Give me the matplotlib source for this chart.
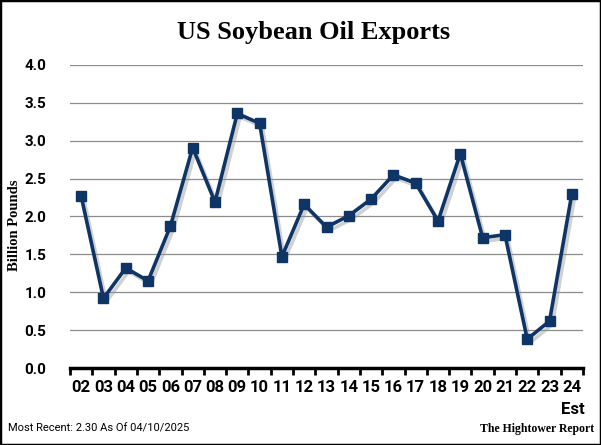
import matplotlib.pyplot as plt
import matplotlib.patheffects as pe
from matplotlib.patches import Rectangle

years = ['02', '03', '04', '05', '06', '07', '08', '09', '10', '11', '12', '13',
         '14', '15', '16', '17', '18', '19', '20', '21', '22', '23', '24']
exports = [2.27, 0.92, 1.32, 1.15, 1.87, 2.91, 2.19, 3.36, 3.23, 1.47, 2.16, 1.86,
           2.01, 2.23, 2.55, 2.44, 1.94, 2.83, 1.72, 1.76, 0.38, 0.62, 2.30]
yticks = [0.0, 0.5, 1.0, 1.5, 2.0, 2.5, 3.0, 3.5, 4.0]

navy = '#0e3566'
narrow = ['Liberation Sans Narrow', 'Roboto', 'DejaVu Sans']

fig = plt.figure(figsize=(6.01, 4.45), dpi=100)
ax = fig.add_axes([70 / 601, 77 / 445, 513 / 601, 303 / 445])

x = list(range(len(years)))
ax.plot(x, exports, color=navy, lw=2.6, zorder=3, solid_joinstyle='round',
        path_effects=[pe.SimpleLineShadow(offset=(2, -2.5), shadow_color='#999999', alpha=0.45),
                      pe.Normal()])
ax.plot(x, exports, ls='none', marker='s', ms=6.5, color=navy, zorder=4)

ax.set_xlim(-0.5, len(years) - 0.5)
ax.set_ylim(0, 4)
ax.set_yticks(yticks)
ax.set_yticklabels(['%.1f' % v for v in yticks], fontsize=11, fontweight='bold',
                   family=narrow)
ax.yaxis.grid(True, color='#8c8c8c', lw=0.9)
ax.set_axisbelow(True)
ax.tick_params(axis='y', length=0, pad=17)

ax.set_xticks([i + 0.5 for i in range(-1, len(years))], minor=False)
ax.set_xticklabels([])
ax.set_xticks(x, minor=True)
ax.set_xticklabels(years, minor=True, fontsize=12, fontweight='bold', family=narrow)
ax.tick_params(axis='x', which='major', length=5, width=2, color='black', direction='out')
ax.tick_params(axis='x', which='minor', length=0, pad=9)

for s in ['left', 'right', 'top']:
    ax.spines[s].set_visible(False)
ax.spines['bottom'].set_linewidth(2.5)

ax.set_ylabel('Billion Pounds', family='Liberation Serif', fontweight='bold', fontsize=10.5)
ax.yaxis.set_label_coords(-0.096, 0.47)

fig.text(0.522, 1 - 33 / 445, 'US Soybean Oil Exports', ha='center', va='center',
         family='Liberation Serif', fontweight='bold', fontsize=19)
fig.text(573 / 601, 1 - 410 / 445, 'Est', ha='center', va='center',
         fontsize=12, fontweight='bold', family=narrow)
fig.text(8 / 601, 1 - 429 / 445, 'Most Recent: 2.30 As Of 04/10/2025', ha='left', va='center',
         fontsize=8, family=narrow)
fig.text(594 / 601, 1 - 429 / 445, 'The Hightower Report', ha='right', va='center',
         fontsize=8.5, family='Liberation Serif', fontweight='bold')

fig.patches.append(Rectangle((0, 0), 1, 1, transform=fig.transFigure, fill=False,
                             edgecolor='black', lw=2.5))

fig.savefig('out.png', dpi=100)
